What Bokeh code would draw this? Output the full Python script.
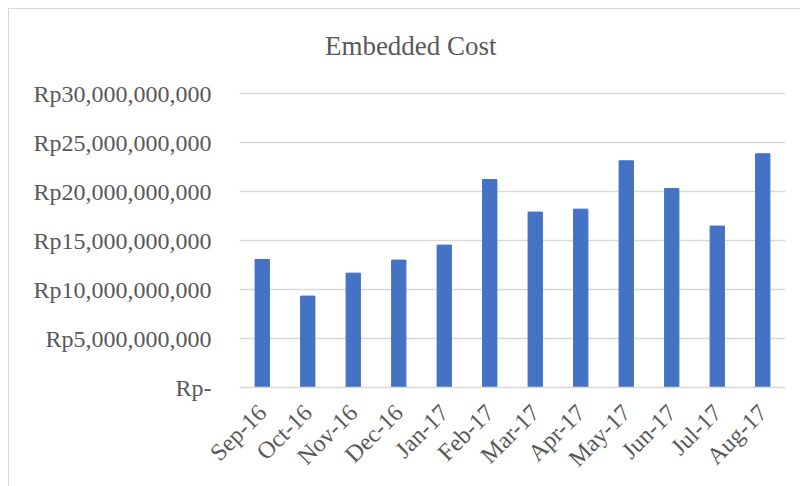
import math
from bokeh.plotting import figure
from bokeh.models import FixedTicker
from bokeh.core.properties import value
from bokeh.embed import file_html
from bokeh.resources import INLINE

months = ["Sep-16", "Oct-16", "Nov-16", "Dec-16", "Jan-17", "Feb-17",
          "Mar-17", "Apr-17", "May-17", "Jun-17", "Jul-17", "Aug-17"]
cost = [13.06e9, 9.33e9, 11.67e9, 13.0e9, 14.53e9, 21.22e9,
        17.9e9, 18.2e9, 23.13e9, 20.3e9, 16.47e9, 23.85e9]
y_ticks = [0, 5e9, 10e9, 15e9, 20e9, 25e9, 30e9]
y_tick_labels = ["Rp-", "Rp5,000,000,000", "Rp10,000,000,000", "Rp15,000,000,000",
                 "Rp20,000,000,000", "Rp25,000,000,000", "Rp30,000,000,000"]
chart_title = "Embedded Cost"

FONT = "Liberation Serif"
TXT = "#595959"

# frame spans the whole chart height above the x axis; the value axis only shows 0..30e9
px = 30e9 / 294.0
y_top = 378 * px

p = figure(width=792, height=478, x_range=months, y_range=(0, y_top),
           output_backend="svg", toolbar_location=None,
           min_border_left=230, min_border_right=16, min_border_top=0,
           min_border_bottom=100)
p.margin = (8, 0, 0, 8)
p.styles = {"border-top": "1px solid #d9d9d9", "border-left": "1px solid #d9d9d9"}

p.vbar(x=months, top=cost, width=0.315, fill_color="#4472C4", line_color="#4472C4")

p.text(x=[months[3]], y=[342 * px], text=[chart_title], x_offset=12,
       text_font=value(FONT), text_font_size="27px", text_color=TXT,
       text_align="center", text_baseline="middle")

p.outline_line_color = None
p.xgrid.grid_line_color = None
p.ygrid.grid_line_color = "#d9d9d9"
p.ygrid.grid_line_width = 1.5

p.yaxis.ticker = FixedTicker(ticks=y_ticks)
p.yaxis.major_label_overrides = {t: l for t, l in zip(y_ticks, y_tick_labels)}
p.yaxis.axis_line_color = None
p.yaxis.major_tick_line_color = None
p.yaxis.minor_tick_line_color = None
p.yaxis.major_label_standoff = 22
p.yaxis.major_label_text_font = FONT
p.yaxis.major_label_text_font_size = "24px"
p.yaxis.major_label_text_color = TXT

p.xaxis.axis_line_color = "#d9d9d9"
p.xaxis.axis_line_width = 1.5
p.xaxis.major_tick_line_color = None
p.xaxis.minor_tick_line_color = None
p.xaxis.major_label_orientation = math.pi / 4
p.xaxis.major_label_standoff = 15
p.xaxis.major_label_text_font = FONT
p.xaxis.major_label_text_font_size = "24px"
p.xaxis.major_label_text_color = TXT

open("out.html", "w").write(file_html(p, INLINE))
